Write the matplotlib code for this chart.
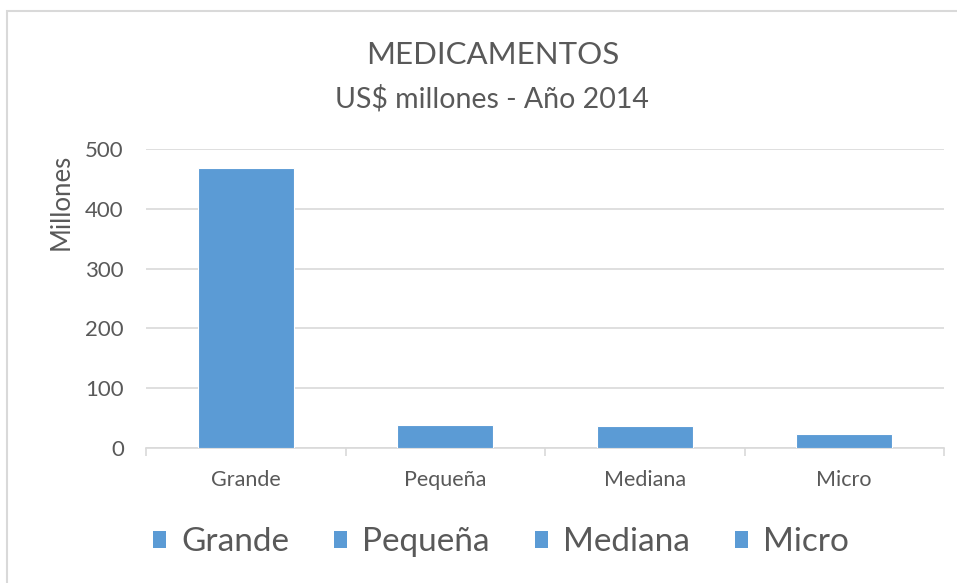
import matplotlib
matplotlib.use("Agg")
import matplotlib.pyplot as plt
from matplotlib.patches import Patch, Rectangle

categories = ["Grande", "Pequeña", "Mediana", "Micro"]
values = [468, 39, 36, 23]
y_ticks = [0, 100, 200, 300, 400, 500]

bar_color = "#5B9BD5"
text_color = "#595959"
grid_color = "#D9D9D9"

plt.rcParams["font.family"] = ["Lato", "DejaVu Sans"]

W, H = 957, 583
fig = plt.figure(figsize=(W / 100, H / 100), dpi=100)
ax = fig.add_axes([146 / W, 1 - 448 / H, (944 - 146) / W, (448 - 149) / H])

x = list(range(len(categories)))
ax.bar(x, values, width=0.48, color=bar_color, edgecolor="white", linewidth=0.8, zorder=3)

ax.set_xlim(-0.5, len(categories) - 0.5)
ax.set_ylim(0, 500)
ax.set_yticks(y_ticks)
ax.set_yticklabels([str(v) for v in y_ticks], fontsize=16, color=text_color)
ax.set_xticks(x)
ax.set_xticklabels(categories, fontsize=15.5, color=text_color)
ax.set_xticks([i - 0.5 for i in range(len(categories) + 1)], minor=True)
ax.tick_params(axis="x", which="major", length=0, pad=16)
ax.tick_params(axis="x", which="minor", length=6, color=grid_color, width=1.2)
ax.tick_params(axis="y", length=0, pad=16)
ax.grid(axis="y", color=grid_color, linewidth=1.2, zorder=0)
ax.set_axisbelow(True)
for side in ["top", "right", "left"]:
    ax.spines[side].set_visible(False)
ax.spines["bottom"].set_color(grid_color)
ax.spines["bottom"].set_linewidth(1.2)

ax.set_ylabel("Millones", fontsize=18.5, color=text_color)
ax.yaxis.set_label_coords(-(146 - 74) / (944 - 146), (448 - 202) / (448 - 149))

fig.text(493 / W, 1 - 55 / H, "MEDICAMENTOS", ha="center", va="center", fontsize=22.5, color=text_color)
fig.text(492 / W, 1 - 99 / H, "US$ millones - Año 2014", ha="center", va="center", fontsize=20.5, color=text_color)

handles = [Patch(facecolor=bar_color, edgecolor="none") for _ in categories]
fig.legend(handles, categories, loc="center", bbox_to_anchor=(501 / W, 1 - 542 / H), ncol=4,
           frameon=False, fontsize=24, labelcolor=text_color, handlelength=0.4, handleheight=0.4,
           handletextpad=0.45, columnspacing=1.35)

fig.patches.append(Rectangle((7.5 / W, -0.1), 1.2, (H - 10.5) / H + 0.1, transform=fig.transFigure,
                             fill=False, edgecolor=grid_color, linewidth=1.5))

fig.savefig("out.png", dpi=100)
